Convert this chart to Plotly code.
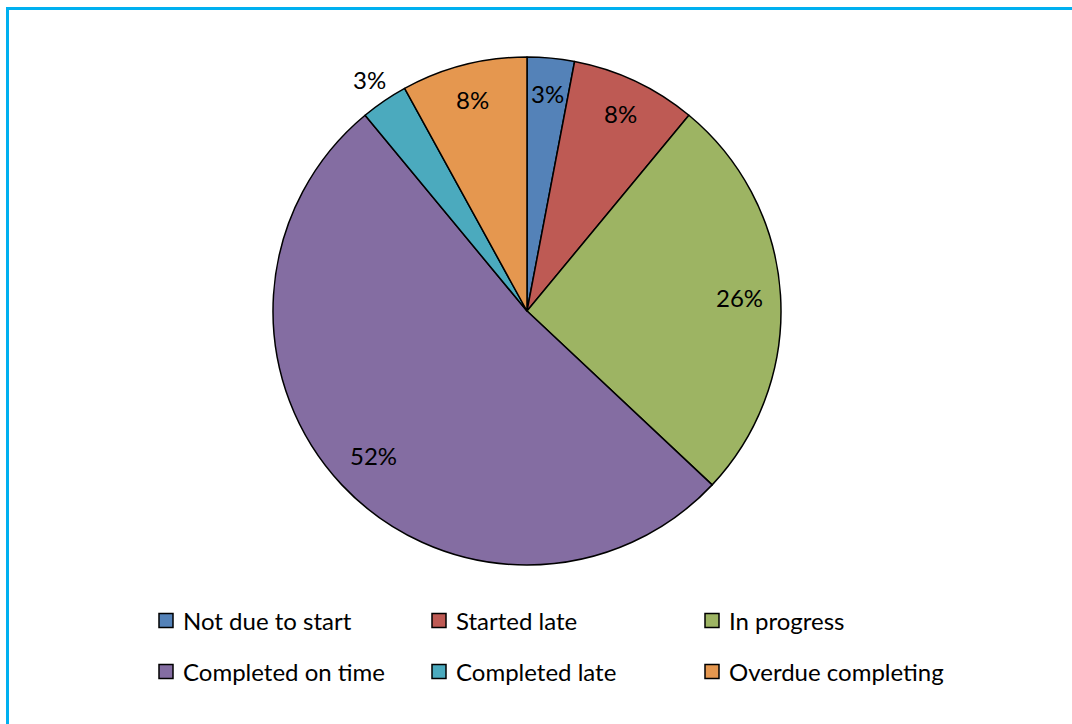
import math
import plotly.graph_objects as go

# Project status breakdown (percent of projects)
labels = ["Not due to start", "Started late", "In progress",
          "Completed on time", "Completed late", "Overdue completing"]
values = [3, 8, 26, 52, 3, 8]
colors = ["#5482B8", "#BE5A54", "#9DB463", "#846DA2", "#4BAABE", "#E5974F"]

# radial position of each percentage label, as a fraction of the pie radius
label_radius = [0.86, 0.86, 0.84, 0.83, 1.10, 0.86]

W, H = 1072, 724
CX, CY, R = 527, 311, 254  # pie centre / radius in page pixels
FONT = "Lato"

fig = go.Figure(go.Pie(
    labels=labels,
    values=values,
    sort=False,
    direction="clockwise",
    rotation=0,
    marker=dict(colors=colors, line=dict(color="#000000", width=1.5)),
    textinfo="none",
    hoverinfo="label+percent",
    showlegend=False,
    domain=dict(x=[(CX - R) / W, (CX + R) / W],
                y=[1 - (CY + R) / H, 1 - (CY - R) / H]),
))

annotations = []
shapes = []

# percentage labels placed at each slice's mid-angle
total = sum(values)
cum = 0
for v, k in zip(values, label_radius):
    mid = (cum + v / 2) / total * 2 * math.pi
    cum += v
    px = CX + k * R * math.sin(mid)
    py = CY - k * R * math.cos(mid)
    annotations.append(dict(
        x=px / W, y=1 - py / H, xref="paper", yref="paper",
        text=f"{round(v / total * 100)}%", showarrow=False,
        xanchor="center", yanchor="middle",
        font=dict(family=FONT, size=24, color="#000000"),
    ))

# legend: three columns, two rows, square swatches
col_x = [159, 432, 705]
row_y = [620.5, 671.5]
box = 14
for i, (lab, col) in enumerate(zip(labels, colors)):
    x0 = col_x[i % 3]
    yc = row_y[i // 3]
    shapes.append(dict(
        type="rect", xref="paper", yref="paper",
        x0=x0 / W, x1=(x0 + box) / W,
        y0=1 - (yc + box / 2) / H, y1=1 - (yc - box / 2) / H,
        fillcolor=col, line=dict(color="#000000", width=1.5),
    ))
    annotations.append(dict(
        x=(x0 + box + 8) / W, y=1 - (yc - 0.5) / H, xref="paper", yref="paper",
        text=lab, showarrow=False, xanchor="left", yanchor="middle",
        font=dict(family=FONT, size=24, color="#000000"),
    ))

# chart frame
shapes.append(dict(
    type="rect", xref="paper", yref="paper",
    x0=7.5 / W, x1=1.05, y0=-0.05, y1=1 - 8.5 / H,
    line=dict(color="#00B0F0", width=3), fillcolor="rgba(0,0,0,0)",
))

fig.update_layout(
    width=W, height=H,
    margin=dict(l=0, r=0, t=0, b=0),
    paper_bgcolor="#FFFFFF",
    plot_bgcolor="#FFFFFF",
    annotations=annotations,
    shapes=shapes,
)

fig.write_html("out.html")
